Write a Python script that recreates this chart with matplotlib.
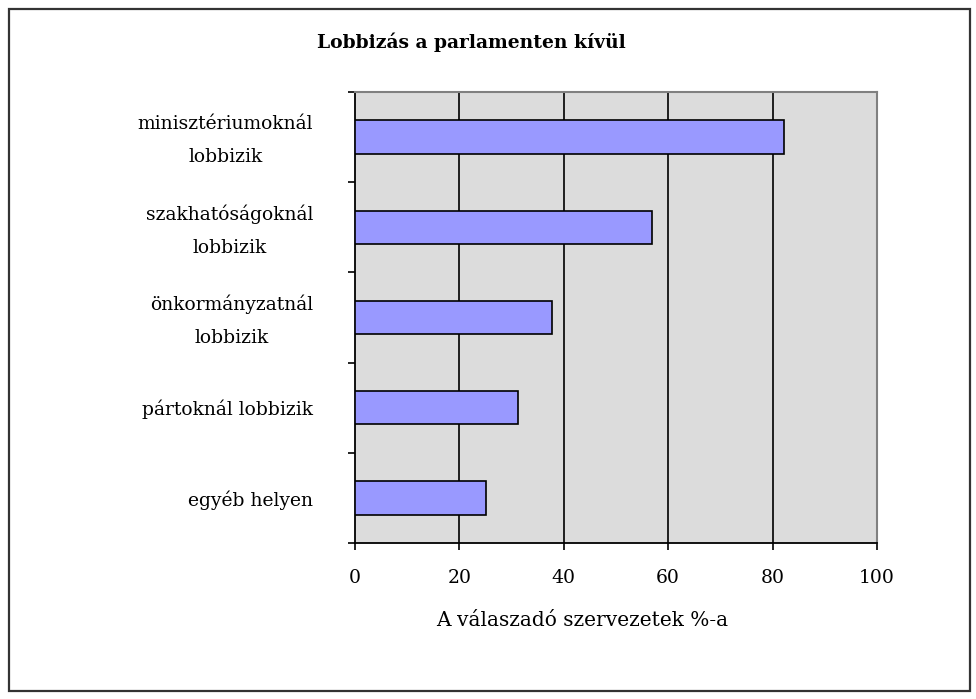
import numpy as np
import matplotlib.pyplot as plt
import matplotlib.transforms as mtransforms
from matplotlib.patches import Rectangle

categories = ['minisztériumoknál\nlobbizik', 'szakhatóságoknál\nlobbizik',
              'önkormányzatnál\nlobbizik', 'pártoknál lobbizik', 'egyéb helyen']
values = [82.2, 57, 37.8, 31.3, 25.1]
x_ticks = [0, 20, 40, 60, 80, 100]

plt.rcParams['font.family'] = ['DejaVu Serif']

fig = plt.figure(figsize=(9.76, 6.99), dpi=100)
ax = fig.add_axes([0.3637, 0.2232, 0.5348, 0.6452])
ax.set_facecolor('#DCDCDC')

pos = np.arange(len(categories))
ax.barh(pos, values, height=0.37, color='#9999FF', edgecolor='black', linewidth=1.2, zorder=3)
ax.set_ylim(len(categories) - 0.5, -0.5)
ax.set_xlim(0, 100)

# gridlines
for v in x_ticks[1:-1]:
    ax.axvline(v, color='black', linewidth=1.2, zorder=1)

ax.set_xticks(x_ticks)
ax.set_xticklabels([str(t) for t in x_ticks], fontsize=13.5)
ax.tick_params(axis='x', direction='out', length=5, width=1.2, pad=14)

# ticks between categories, labels at centers
ax.set_yticks(np.arange(-0.5, len(categories), 1))
ax.set_yticklabels([])
ax.tick_params(axis='y', which='major', direction='out', length=5, width=1.2)
ax.set_yticks(pos, minor=True)
labels = ax.set_yticklabels(categories, minor=True, fontsize=13.5, ha='right',
                            multialignment='center', linespacing=2.05)
ax.tick_params(axis='y', which='minor', length=0, pad=30)
# two-line labels sit a bit higher in the original
for lab in labels:
    if '\n' in lab.get_text():
        lab.set_transform(lab.get_transform() + mtransforms.ScaledTranslation(0, 6 / 100, fig.dpi_scale_trans))

for s in ['left', 'bottom']:
    ax.spines[s].set_color('black')
    ax.spines[s].set_linewidth(1.3)
for s in ['top', 'right']:
    ax.spines[s].set_color('#808080')
    ax.spines[s].set_linewidth(1.5)

fig.text(471 / 976, 1 - 42 / 699, 'Lobbizás a parlamenten kívül', ha='center', va='center',
         fontsize=13.5, fontweight='bold')
fig.text(582 / 976, 1 - 621 / 699, 'A válaszadó szervezetek %-a', ha='center', va='center',
         fontsize=14.5)

fig.patches.append(Rectangle((9 / 976, 8 / 699), 961 / 976, 682 / 699, transform=fig.transFigure,
                             fill=False, edgecolor='#333333', linewidth=1.6))

fig.savefig('out.png', dpi=100, facecolor='white')
